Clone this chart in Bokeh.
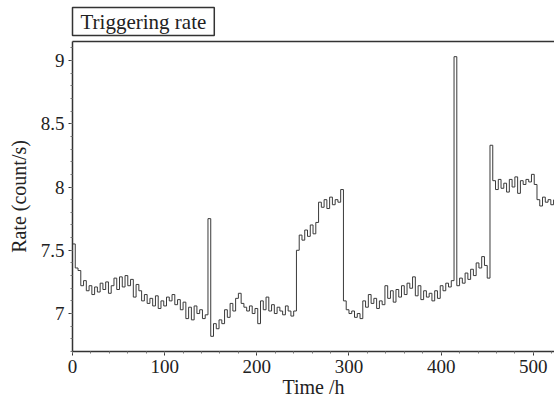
from bokeh.plotting import figure
from bokeh.models import (LinearAxis, SingleIntervalTicker, NumeralTickFormatter, FixedTicker,
                          Range1d, ColumnDataSource, Title)
from bokeh.embed import file_html
from bokeh.resources import INLINE

# Triggering rate (count/s), sampled every 3 hours starting at t = 0 h
rate = [
    7.55, 7.36, 7.34, 7.22,
    7.26, 7.18, 7.22, 7.15, 7.21, 7.17, 7.24, 7.19, 7.25, 7.16,
    7.22, 7.28, 7.19, 7.29, 7.21, 7.30, 7.22, 7.27, 7.13, 7.23,
    7.18, 7.10, 7.15, 7.08, 7.12, 7.06, 7.14, 7.04, 7.10, 7.06,
    7.13, 7.10, 7.15, 7.07, 7.11, 7.03, 7.09, 6.96, 7.05, 6.95,
    7.06, 7.00, 7.03, 6.96, 6.99, 7.75,
    6.82, 6.92, 6.88, 6.95, 6.92, 7.03, 6.97, 7.08, 7.02, 7.12,
    7.16, 7.08, 7.05, 7.02, 7.06, 7.00, 7.04, 6.92, 7.10, 7.03,
    7.13, 7.02, 7.07, 7.00, 7.05, 7.02, 6.99, 7.06, 7.02, 6.98,
    7.02, 7.50, 7.62, 7.58, 7.66, 7.61, 7.70, 7.63, 7.72, 7.88,
    7.84, 7.90, 7.83, 7.92, 7.86, 7.90, 7.88, 7.98, 7.10, 7.03,
    7.00, 7.02, 6.97, 7.00, 6.96, 7.10, 7.05, 7.15, 7.08, 7.12,
    7.04, 7.10, 7.07, 7.22, 7.12, 7.18, 7.09, 7.19, 7.13, 7.22,
    7.15, 7.24, 7.20, 7.29, 7.14, 7.22, 7.11, 7.18, 7.13, 7.16,
    7.10, 7.18, 7.12, 7.22, 7.18, 7.24, 7.21, 7.26, 9.03, 7.22,
    7.28, 7.24, 7.32, 7.27, 7.35, 7.30, 7.40, 7.36, 7.45, 7.38,
    7.28, 8.33, 8.05, 7.98, 8.06, 7.99, 8.03, 7.96, 8.06, 8.00,
    8.08, 7.95, 8.05, 8.02, 8.06, 8.04, 8.10, 8.02, 7.90, 7.85,
    7.92, 7.88, 7.90, 7.86, 7.90,
]
hours = list(range(0, 3 * len(rate), 3))

x_ticks_major = 100
y_ticks_major = 0.5

src = ColumnDataSource(dict(t=hours, r=rate))

FONT = "Liberation Serif"
INK = "#333333"

p = figure(width=554, height=401, output_backend="svg", toolbar_location=None,
           x_range=Range1d(0, 523), y_range=Range1d(6.7, 9.15),
           min_border_left=72, min_border_right=0, min_border_top=41, min_border_bottom=50,
           outline_line_color=None, background_fill_color="white",
           border_fill_color="white")

p.step("t", "r", source=src, mode="after", line_color="#3a3a3a", line_width=1)

p.xgrid.visible = False
p.ygrid.visible = False

p.xaxis.ticker = SingleIntervalTicker(interval=x_ticks_major, num_minor_ticks=5)
p.yaxis.ticker = SingleIntervalTicker(interval=y_ticks_major, num_minor_ticks=5)
p.yaxis.formatter = NumeralTickFormatter(format="0.[0]")

for ax in (p.xaxis[0], p.yaxis[0]):
    ax.axis_line_color = INK
    ax.axis_line_width = 1.5
    ax.major_tick_line_color = INK
    ax.minor_tick_line_color = "#777777"
    ax.major_tick_in = 0
    ax.major_tick_out = 4
    ax.minor_tick_in = 0
    ax.minor_tick_out = 2
    ax.major_label_text_font = FONT
    ax.major_label_text_font_size = "19px"
    ax.major_label_text_color = "#222222"
    ax.axis_label_text_font = FONT
    ax.axis_label_text_font_size = "20px"
    ax.axis_label_text_font_style = "normal"
    ax.axis_label_text_color = "#222222"

p.xaxis.axis_label = "Time /h"
p.yaxis.axis_label = "Rate (count/s)"
p.xaxis.major_label_standoff = 4
p.xaxis.axis_label_standoff = 0
p.xaxis.major_label_text_line_height = 1.0
p.xaxis.axis_label_text_line_height = 1.0
p.yaxis.major_label_standoff = 4
p.yaxis.axis_label_standoff = 8

top = LinearAxis(ticker=FixedTicker(ticks=[]), axis_line_color=INK, axis_line_width=1.5,
                 major_tick_line_color=None, minor_tick_line_color=None)
p.add_layout(top, "above")

p.title = Title(text="Triggering rate", text_font=FONT, text_font_size="21px",
                text_font_style="normal", text_color="#222222", align="left",
                vertical_align="middle",
                border_line_color=INK, border_line_width=1.5,
                background_fill_color="white",
                padding=dict(left=8, right=8, top=2, bottom=2), standoff=10)

open("out.html", "w").write(file_html(p, INLINE))
